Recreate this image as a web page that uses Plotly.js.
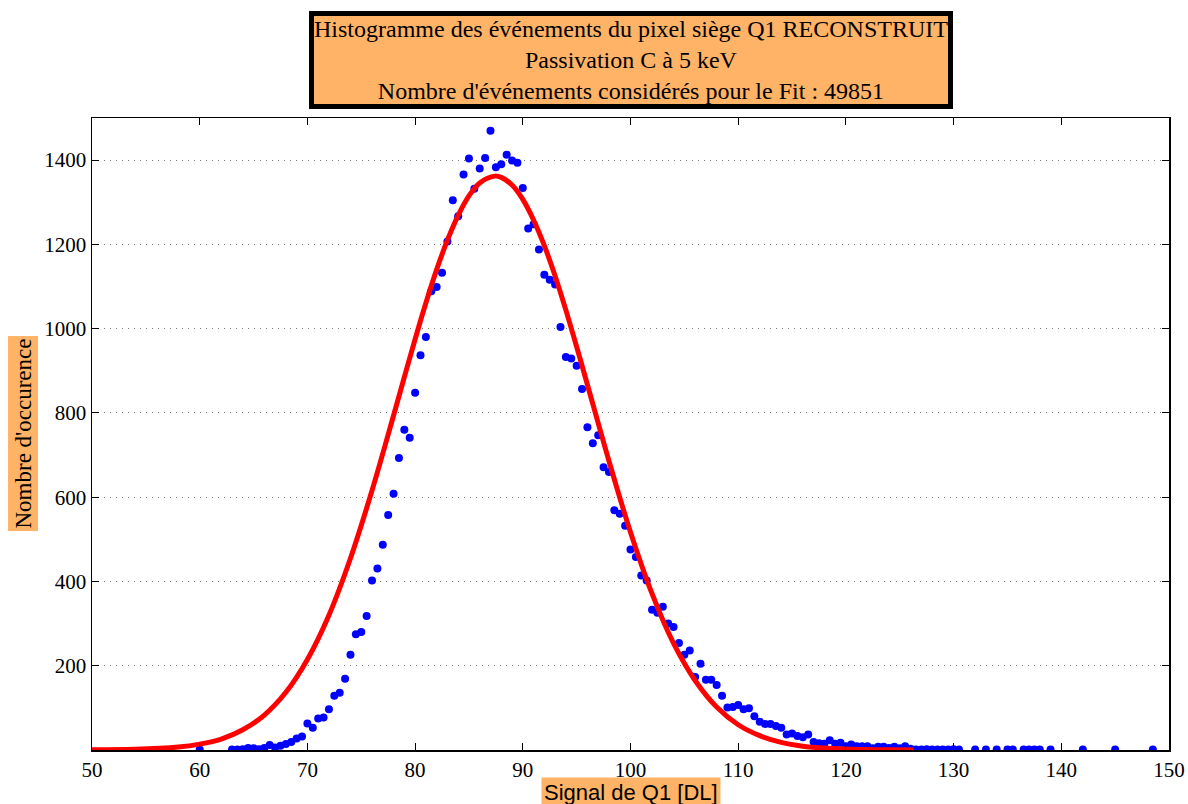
<!DOCTYPE html>
<html>
<head>
<meta charset="utf-8">
<script src="https://cdn.plot.ly/plotly-3.0.1.min.js"></script>
<style>html,body{margin:0;padding:0;background:#fff;}#chart{width:1188px;height:804px;}</style>
</head>
<body>
<div id="chart"></div>
<script>
// Histogram bin centres (DL) and counts
var binCenters = [60, 63, 63.5, 64, 64.5, 65, 65.5, 66, 66.5, 67, 67.5, 68, 68.5, 69, 69.5,
  70, 70.5, 71, 71.5, 72, 72.5, 73, 73.5, 74, 74.5, 75, 75.5, 76, 76.5, 77, 77.5, 78, 78.5, 79, 79.5,
  80, 80.5, 81, 81.5, 82, 82.5, 83, 83.5, 84, 84.5, 85, 85.5, 86, 86.5, 87, 87.5, 88, 88.5, 89, 89.5,
  90, 90.5, 91, 91.5, 92, 92.5, 93, 93.5, 94, 94.5, 95, 95.5, 96, 96.5, 97, 97.5, 98, 98.5, 99, 99.5,
  100, 100.5, 101, 101.5, 102, 102.5, 103, 103.5, 104, 104.5, 105, 105.5, 106, 106.5, 107, 107.5, 108, 108.5, 109, 109.5,
  110, 110.5, 111, 111.5, 112, 112.5, 113, 113.5, 114, 114.5, 115, 115.5, 116, 116.5, 117, 117.5, 118, 118.5, 119, 119.5,
  120, 120.5, 121, 121.5, 122, 122.5, 123, 123.5, 124, 124.5, 125, 125.5, 126, 126.5, 127, 127.5, 128, 128.5, 129, 129.5,
  130, 130.5, 132, 133, 134, 135, 135.5, 136.5, 137, 137.5, 138, 139, 142, 145, 148.5];
var counts = [1, 1, 1, 2, 5, 4, 2, 5, 12, 6, 10, 14, 19, 27, 32,
  63, 53, 75, 77, 97, 129, 136, 169, 226, 275, 280, 318, 402, 431, 487, 558, 608, 693, 760, 741,
  848, 937, 980, 1089, 1099, 1133, 1207, 1305, 1267, 1366, 1404, 1332, 1380, 1405, 1470, 1383, 1390, 1413, 1399, 1394,
  1334, 1238, 1248, 1188, 1128, 1116, 1105, 1004, 933, 929, 912, 857, 766, 728, 747, 671, 660, 569, 561, 532,
  476, 458, 414, 402, 333, 326, 340, 300, 292, 254, 226, 236, 173, 205, 167, 167, 154, 129, 101, 102,
  107, 97, 99, 80, 67, 62, 62, 57, 53, 37, 39, 33, 30, 37, 19, 16, 15, 23, 15, 17,
  9, 13, 9, 9, 9, 4, 8, 8, 5, 8, 4, 9, 3, 1, 1, 2, 1, 1, 1, 1,
  2, 1, 1, 1, 1, 1, 1, 1, 1, 1, 1, 1, 1, 1, 1];

// Fit curve, values
var fitX = [50, 54, 58, 60, 62, 64, 66, 68, 70, 72, 74, 76, 78, 79, 80, 81, 82, 83, 84, 85, 86, 87.4, 88, 89, 90, 91, 92, 93, 94, 95, 96, 98,
  100, 102, 104, 106, 108, 110, 112, 114, 116, 118, 120, 122, 124, 126.3];
var fitY = [0.3, 1.5, 7, 14, 26, 48, 83, 137, 215, 320, 455, 616, 794, 885, 975, 1061, 1140, 1210, 1269, 1315, 1346, 1362, 1359, 1341, 1307, 1258, 1197, 1125, 1044, 957, 867, 686,
  517, 371, 253, 165, 102, 60, 34, 18, 9, 4.5, 2.1, 0.9, 0.4, 0.15];

var yTicks = [200, 400, 600, 800, 1000, 1200, 1400];
var xTicks = [50, 60, 70, 80, 90, 100, 110, 120, 130, 140, 150];

var titleText = "Histogramme des événements du pixel siège Q1 RECONSTRUIT<br>Passivation C à 5 keV<br>Nombre d'événements considérés pour le Fit : 49851";
var yLabel = "Nombre d'occurence";
var xLabel = "Signal de Q1 [DL]";

var orange = '#FFB366';
var serif = 'Liberation Serif, Times New Roman, serif';

var traces = [
  {x: binCenters, y: counts, type: 'scatter', mode: 'markers',
   marker: {color: '#0000FF', size: 8}, hoverinfo: 'x+y', showlegend: false},
  {x: fitX, y: fitY, type: 'scatter', mode: 'lines',
   line: {color: '#FF0000', width: 5, shape: 'spline', smoothing: 1}, showlegend: false}
];

var layout = {
  width: 1188, height: 804,
  margin: {l: 92, r: 19, t: 118, b: 54, pad: 0},
  paper_bgcolor: '#ffffff', plot_bgcolor: '#ffffff',
  font: {family: serif, size: 20, color: '#000'},
  xaxis: {range: [50, 150], tickvals: xTicks, ticktext: xTicks.map(String),
    ticks: 'inside', ticklen: 7, tickcolor: '#000', tickwidth: 1,
    showline: true, linecolor: '#000', linewidth: 1.5, mirror: 'ticks',
    showgrid: false, zeroline: false, tickfont: {family: serif, size: 21, color: '#000'}},
  yaxis: {range: [0, 1500], tickvals: yTicks, ticktext: yTicks.map(String),
    ticks: 'inside', ticklen: 7, tickcolor: '#000', tickwidth: 1,
    showline: true, linecolor: '#000', linewidth: 1.5, mirror: 'ticks',
    showgrid: true, gridcolor: '#777', griddash: '1px,5px', gridwidth: 1,
    zeroline: false, tickfont: {family: serif, size: 21, color: '#000'}},
  annotations: [
    {text: titleText, xref: 'paper', yref: 'paper', x: 0.5, y: 1.092,
     xanchor: 'center', yanchor: 'middle', showarrow: false,
     font: {family: serif, size: 24, color: '#000'}, align: 'center',
     bgcolor: orange, bordercolor: '#000', borderwidth: 5, borderpad: 0},
    {text: yLabel, xref: 'paper', yref: 'paper', x: -0.0645, y: 0.5,
     xanchor: 'center', yanchor: 'middle', showarrow: false, textangle: -90,
     font: {family: serif, size: 23, color: '#000'}, bgcolor: orange, borderpad: 2},
    {text: xLabel, xref: 'paper', yref: 'paper', x: 0.5, y: -0.068,
     xanchor: 'center', yanchor: 'middle', showarrow: false,
     font: {family: 'Liberation Sans, Arial, sans-serif', size: 22, color: '#000'}, bgcolor: orange, borderpad: 2}
  ]
};

Plotly.newPlot('chart', traces, layout, {displayModeBar: false, staticPlot: true});
</script>
</body>
</html>
